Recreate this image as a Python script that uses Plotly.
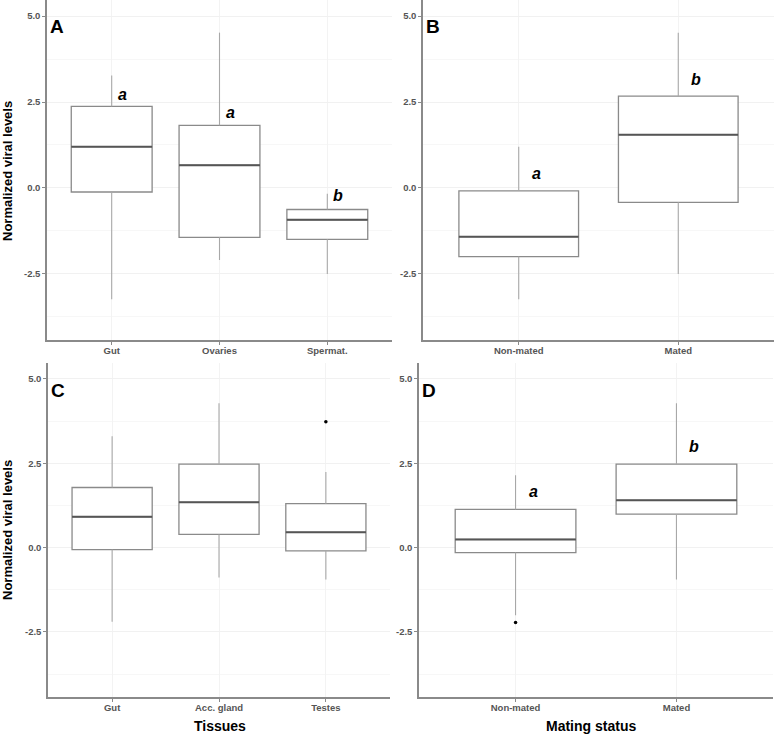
import plotly.graph_objects as go

# ---------------- data ----------------
cats_A = ["Gut", "Ovaries", "Spermat."]
low_A = [-3.24, -2.10, -2.51]
q1_A = [-0.12, -1.44, -1.50]
med_A = [1.20, 0.66, -0.93]
q3_A = [2.37, 1.82, -0.63]
high_A = [3.27, 4.52, -0.17]
let_A = ["a", "a", "b"]
lety_A = [2.71, 2.18, -0.21]

cats_B = ["Non-mated", "Mated"]
low_B = [-3.24, -2.51]
q1_B = [-2.00, -0.42]
med_B = [-1.42, 1.55]
q3_B = [-0.09, 2.67]
high_B = [1.20, 4.52]
let_B = ["a", "b"]
lety_B = [0.42, 3.15]

cats_C = ["Gut", "Acc. gland", "Testes"]
low_C = [-2.20, -0.89, -0.95]
q1_C = [-0.06, 0.39, -0.10]
med_C = [0.91, 1.34, 0.45]
q3_C = [1.78, 2.47, 1.30]
high_C = [3.30, 4.28, 2.24]
out_x_C = ["Testes"]
out_y_C = [3.73]

cats_D = ["Non-mated", "Mated"]
low_D = [-2.01, -0.95]
q1_D = [-0.15, 0.99]
med_D = [0.24, 1.40]
q3_D = [1.13, 2.47]
high_D = [2.14, 4.28]
let_D = ["a", "b"]
lety_D = [1.67, 3.00]
out_x_D = ["Non-mated"]
out_y_D = [-2.22]

y_ticks = [-2.5, 0.0, 2.5, 5.0]
y_tick_text = ["-2.5", "0.0", "2.5", "5.0"]
y_minor = [-3.75, -1.25, 1.25, 3.75]
y_range = [-4.43, 5.47]

W, H = 775, 735
FONT = "Liberation Sans, Arial, sans-serif"

fig = go.Figure()

# pixel boxes of panels: (left, right, top, bottom)
panels = {
    "A": dict(ax="", px=(47, 392, 0, 340)),
    "B": dict(ax="2", px=(423, 774, 0, 340)),
    "C": dict(ax="3", px=(48, 390, 363, 697)),
    "D": dict(ax="4", px=(419, 773, 363, 697)),
}

data = {
    "A": (cats_A, low_A, q1_A, med_A, q3_A, high_A, let_A, lety_A, [], [], 0.10),
    "B": (cats_B, low_B, q1_B, med_B, q3_B, high_B, let_B, lety_B, [], [], 0.11),
    "C": (cats_C, low_C, q1_C, med_C, q3_C, high_C, [], [], out_x_C, out_y_C, 0.10),
    "D": (cats_D, low_D, q1_D, med_D, q3_D, high_D, let_D, lety_D, out_x_D, out_y_D, 0.11),
}

BOXW = 0.75
layout_upd = {}
for name, p in panels.items():
    ax = p["ax"]
    xa, ya = "x" + ax, "y" + ax
    cats, lo, q1, md, q3, hi, lets, lety, ox, oy, off = data[name]
    # whiskers (lighter, thinner)
    wx, wy = [], []
    for c, a_, b_, c_, d_ in zip(cats, lo, q1, q3, hi):
        wx += [c, c, None, c, c, None]
        wy += [a_, b_, None, c_, d_, None]
    fig.add_trace(go.Scatter(x=wx, y=wy, mode="lines",
                             line=dict(color="#a8a8a8", width=1.1),
                             xaxis=xa, yaxis=ya, showlegend=False,
                             hoverinfo="skip"))
    # boxes (whiskers collapsed; drawn above)
    fig.add_trace(go.Box(
        x=cats, q1=q1, median=md, q3=q3, lowerfence=q1, upperfence=q3,
        width=BOXW, boxpoints=False, whiskerwidth=0,
        fillcolor="white", line=dict(color="#8a8a8a", width=1.3),
        xaxis=xa, yaxis=ya, showlegend=False, hoverinfo="skip",
    ))
    # thicker median lines
    for i, m in enumerate(md):
        fig.add_shape(type="line", xref=xa, yref=ya,
                      x0=i - BOXW / 2, x1=i + BOXW / 2, y0=m, y1=m,
                      line=dict(color="#555555", width=2))
    if ox:
        fig.add_trace(go.Scatter(x=ox, y=oy, mode="markers",
                                 marker=dict(color="black", size=3.5),
                                 xaxis=xa, yaxis=ya, showlegend=False,
                                 hoverinfo="skip"))
    for i, (t, yy) in enumerate(zip(lets, lety)):
        fig.add_annotation(x=i + off, y=yy, xref=xa, yref=ya, text="<b><i>%s</i></b>" % t,
                           showarrow=False, font=dict(family=FONT, size=16, color="black"))
    l, r, t_, b = p["px"]
    n = len(cats)
    key_x = "xaxis" + ax
    key_y = "yaxis" + ax
    layout_upd[key_x] = dict(
        domain=[l / W, r / W], anchor=ya, type="category",
        categoryorder="array", categoryarray=cats,
        range=[-0.6, n - 1 + 0.6],
        showline=True, linecolor="#8a8a8a", linewidth=1.5,
        ticks="outside", ticklen=3, tickcolor="#8a8a8a",
        ticklabelstandoff=-2,
        showgrid=True, gridcolor="#f3f3f3", gridwidth=1,
        tickfont=dict(family=FONT, size=9.5, color="#555555", weight="bold"),
        zeroline=False, fixedrange=True,
    )
    layout_upd[key_y] = dict(
        domain=[1 - b / H, 1 - t_ / H], anchor=xa, range=y_range,
        tickmode="array", tickvals=y_ticks, ticktext=y_tick_text,
        showline=True, linecolor="#8a8a8a", linewidth=1.5,
        ticks="outside", ticklen=3, tickcolor="#8a8a8a",
        showgrid=True, gridcolor="#f1f1f1", gridwidth=1,
        minor=dict(tickmode="array", tickvals=y_minor, showgrid=True,
                   gridcolor="#f7f7f7", gridwidth=1, ticks=""),
        tickfont=dict(family=FONT, size=9.5, color="#555555", weight="bold"),
        zeroline=False, fixedrange=True,
    )
    # panel letter
    fig.add_annotation(x=(l + 10) / W, y=1 - (t_ + 27) / H, xref="paper", yref="paper",
                       text="<b>%s</b>" % name, showarrow=False, xanchor="center",
                       yanchor="middle",
                       font=dict(family=FONT, size=19, color="black"))

# axis titles
for yc in (171, 530):
    fig.add_annotation(x=7 / W, y=1 - yc / H, xref="paper", yref="paper",
                       text="<b>Normalized viral levels</b>", textangle=-90,
                       showarrow=False, xanchor="center", yanchor="middle",
                       font=dict(family=FONT, size=13, color="black"))
fig.add_annotation(x=220 / W, y=1 - 726 / H, xref="paper", yref="paper",
                   text="<b>Tissues</b>", showarrow=False, xanchor="center",
                   yanchor="middle", font=dict(family=FONT, size=14, color="black"))
fig.add_annotation(x=591 / W, y=1 - 726 / H, xref="paper", yref="paper",
                   text="<b>Mating status</b>", showarrow=False, xanchor="center",
                   yanchor="middle", font=dict(family=FONT, size=14, color="black"))

fig.update_layout(
    width=W, height=H, margin=dict(l=0, r=0, t=0, b=0),
    paper_bgcolor="white", plot_bgcolor="white",
    showlegend=False, **layout_upd,
)

fig.write_html("out.html")
